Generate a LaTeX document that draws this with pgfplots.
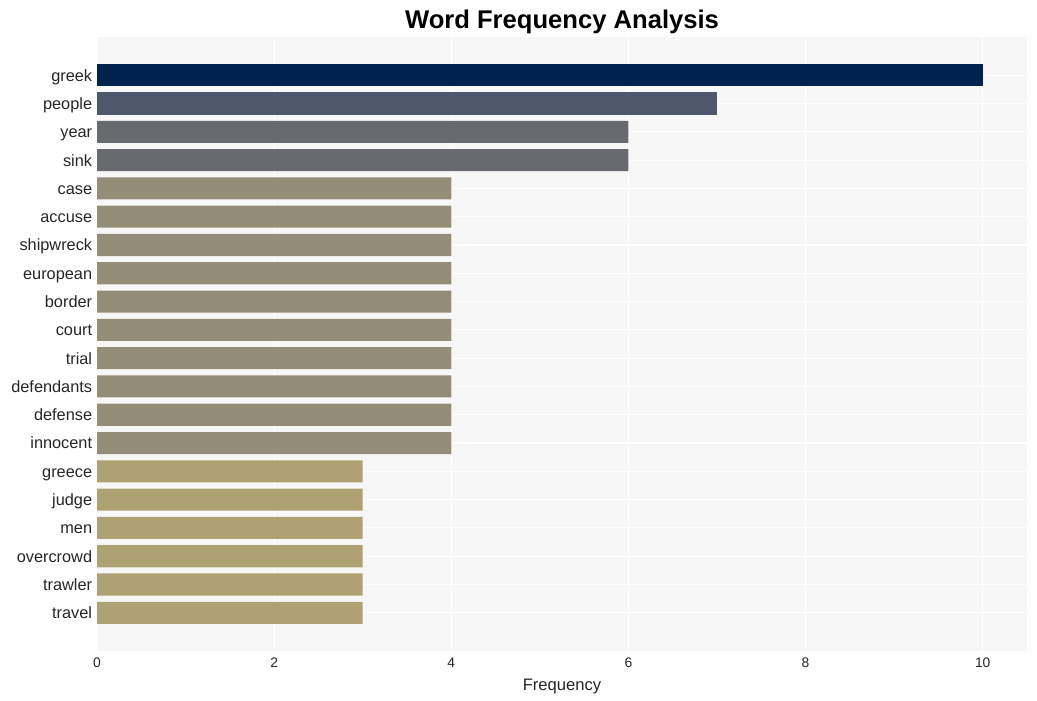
\documentclass[border=0pt]{standalone}
\usepackage{fontspec}
\setmainfont{Liberation Sans}
\usepackage{pgfplots}
\pgfplotsset{compat=1.18}

\definecolor{bg}{HTML}{F7F7F7}
\definecolor{c10}{HTML}{00224E}
\definecolor{c7}{HTML}{4E576C}
\definecolor{c6}{HTML}{686A70}
\definecolor{c4}{HTML}{948E78}
\definecolor{c3}{HTML}{AEA272}
\definecolor{txt}{HTML}{262626}

\begin{document}
\begin{tikzpicture}
  \useasboundingbox (0,0) rectangle (10.37in,7.01in);
  \begin{axis}[
    at={(0.97in,0.50in)}, anchor=south west,
    scale only axis,
    width=9.30in, height=6.14in,
    xmin=0, xmax=10.5,
    ymin=-1.35, ymax=20.35,
    y dir=reverse,
    axis background/.style={fill=bg},
    axis line style={draw=none},
    major tick length=0pt,
    grid=major,
    major grid style={white, line width=0.8pt},
    xtick={0,2,4,6,8,10},
    ytick={0,...,19},
    yticklabels={greek,people,year,sink,case,accuse,shipwreck,european,border,court,trial,defendants,defense,innocent,greece,judge,men,overcrowd,trawler,travel},
    typeset ticklabels with strut,
    yticklabel style={font=\fontsize{11.8}{14}\selectfont, text=txt, yshift=-1.5pt},
    xticklabel style={font=\fontsize{10}{12}\selectfont, text=txt},
    /pgf/number format/assume math mode=true,
    xlabel={Frequency},
    xlabel style={font=\fontsize{12}{14}\selectfont, text=txt, yshift=2pt},
    title={\textbf{Word Frequency Analysis}},
    title style={font=\fontsize{18.5}{22}\selectfont, yshift=-7pt},
    xbar, bar width=0.78, bar shift=0pt,
    every axis plot/.append style={draw=none},
  ]
    \addplot[fill=c10] coordinates {(10,0)};
    \addplot[fill=c7] coordinates {(7,1)};
    \addplot[fill=c6] coordinates {(6,2) (6,3)};
    \addplot[fill=c4] coordinates {(4,4) (4,5) (4,6) (4,7) (4,8) (4,9) (4,10) (4,11) (4,12) (4,13)};
    \addplot[fill=c3] coordinates {(3,14) (3,15) (3,16) (3,17) (3,18) (3,19)};
  \end{axis}
\end{tikzpicture}
\end{document}
